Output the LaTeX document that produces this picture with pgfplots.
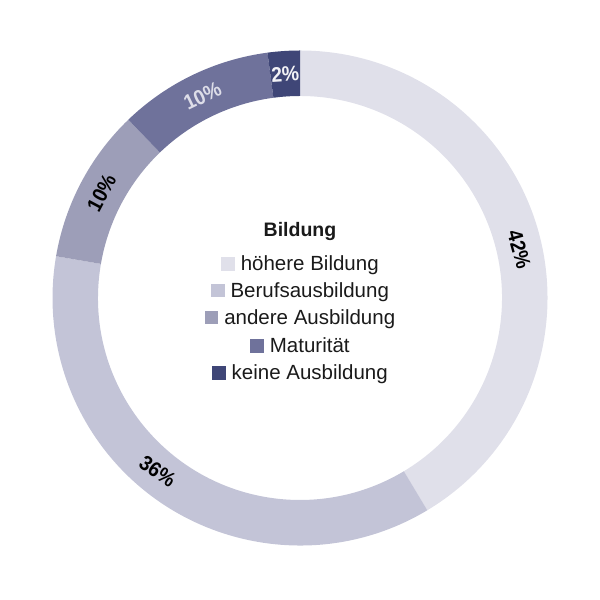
\documentclass[border=0pt]{standalone}
\usepackage{pgfplots}
\usepackage{pgfplotstable}
\pgfplotsset{compat=1.18}
\usepackage{fontspec}
\setmainfont{Liberation Sans}
\newfontfamily\pctfont[FakeStretch=0.92]{Liberation Sans}

\definecolor{c1}{HTML}{E0E0EA}
\definecolor{c2}{HTML}{C3C4D7}
\definecolor{c3}{HTML}{9D9EB8}
\definecolor{c4}{HTML}{6F729B}
\definecolor{c5}{HTML}{3F4677}
\definecolor{t4}{HTML}{DDDDE8}
\definecolor{t5}{HTML}{F2F2F6}
\definecolor{ink}{HTML}{1A1A1A}

% share of each group (ring share, printed label, label shift in degrees)
\pgfplotstableread{
val lab col txt off
41.4 42 c1 black -3
36.3 36 c2 black -5
10.1 10 c3 black 0
10.1 10 c4 t4 0
2.1 2 c5 t5 0
}\shares

\begin{document}
\begin{tikzpicture}
\begin{axis}[
    x=1bp, y=1bp,
    xmin=-300, xmax=300, ymin=-302, ymax=298,
    enlargelimits=false,
    hide axis,
    clip=false,
]
\path (axis cs:-300,-302) rectangle (axis cs:300,298);
\def\ro{247.5}
\def\ri{202}
\def\rm{224.5}
\pgfmathsetmacro\cum{0}
\pgfplotsforeachungrouped \i in {0,...,4}{
    \pgfplotstablegetelem{\i}{val}\of\shares \let\v\pgfplotsretval
    \pgfplotstablegetelem{\i}{lab}\of\shares \let\l\pgfplotsretval
    \pgfplotstablegetelem{\i}{col}\of\shares \let\c\pgfplotsretval
    \pgfplotstablegetelem{\i}{txt}\of\shares \let\t\pgfplotsretval
    \pgfplotstablegetelem{\i}{off}\of\shares \let\o\pgfplotsretval
    \pgfmathsetmacro\a{90-3.6*\cum}
    \pgfmathsetmacro\b{90-3.6*(\cum+\v)}
    \pgfmathsetmacro\m{(\a+\b)/2}
    \pgfmathsetmacro\p{\m+\o}
    \pgfmathsetmacro\rot{mod(\m+720,180)-90}
    \edef\next{%
      \noexpand\fill[\c] (axis cs:{\ro*cos(\a)},{\ro*sin(\a)})
        arc[start angle=\a, end angle=\b, radius=\ro bp]
        -- (axis cs:{\ri*cos(\b)},{\ri*sin(\b)})
        arc[start angle=\b, end angle=\a, radius=\ri bp] -- cycle;
      \noexpand\node[text=\t, rotate=\rot, inner sep=0pt,
        font=\noexpand\pctfont\noexpand\bfseries\noexpand\fontsize{21bp}{22bp}\noexpand\selectfont]
        at (axis cs:{\rm*cos(\p)},{\rm*sin(\p)}) {\l\noexpand\%};
    }
    \next
    \pgfmathsetmacro\cum{\cum+\v}
}
% legend in the centre
\node[text=ink, anchor=base, font=\bfseries\fontsize{19.5bp}{22bp}\selectfont] at (axis cs:0,61.3) {Bildung};
\newcommand\entry[3]{%
  \node[text=ink, anchor=base, font=\fontsize{20.5bp}{22bp}\selectfont] at (axis cs:0,#1)
    {{\color{#2}\rule{13.5bp}{13.5bp}}\hspace{6bp}#3};}
\entry{27}{c1}{höhere Bildung}
\entry{0.7}{c2}{Berufsausbildung}
\entry{-26.3}{c3}{andere Ausbildung}
\entry{-54.7}{c4}{Maturität}
\entry{-82}{c5}{keine Ausbildung}
\end{axis}
\end{tikzpicture}
\end{document}
